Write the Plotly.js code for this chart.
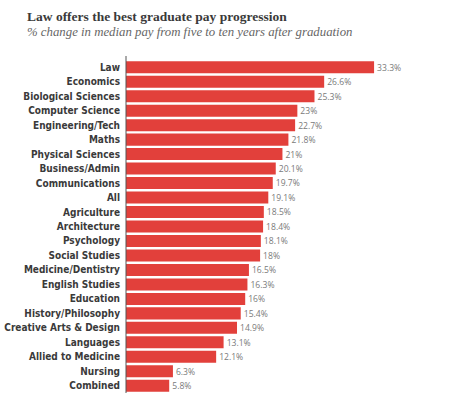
<!DOCTYPE html>
<html><head><meta charset="utf-8">
<script src="https://cdn.plot.ly/plotly-3.0.1.min.js"></script>
<style>body{margin:0;background:#fff}#c{width:450px;height:394px}</style>
</head><body><div id="c"></div>
<script>
const subjects = ["Law","Economics","Biological Sciences","Computer Science","Engineering/Tech","Maths","Physical Sciences","Business/Admin","Communications","All","Agriculture","Architecture","Psychology","Social Studies","Medicine/Dentistry","English Studies","Education","History/Philosophy","Creative Arts & Design","Languages","Allied to Medicine","Nursing","Combined"];
const pctChange = [33.3,26.6,25.3,23,22.7,21.8,21,20.1,19.7,19.1,18.5,18.4,18.1,18,16.5,16.3,16,15.4,14.9,13.1,12.1,6.3,5.8];
const titleText = "Law offers the best graduate pay progression";
const subtitleText = "% change in median pay from five to ten years after graduation";

const L = 126, T = 60, W = 450, H = 394, R = 26, B = 1;
const pw = W - L - R, ph = H - T - B;
const px = v => (v - L) / pw;
const py = v => 1 + (T - v) / ph;

Plotly.newPlot('c', [{
  type: 'bar', orientation: 'h',
  x: pctChange, y: subjects,
  marker: {color: '#e2403b'},
  text: pctChange.map(v => v + '%'),
  textposition: 'outside',
  textfont: {family: 'Open Sans, Liberation Sans, sans-serif', size: 10, color: '#7a7a7a'},
  cliponaxis: false,
  hoverinfo: 'none'
}], {
  width: W, height: H,
  margin: {l: L, r: R, t: T, b: B, pad: 0},
  paper_bgcolor: '#fff', plot_bgcolor: '#fff',
  bargap: 0.17,
  showlegend: false,
  xaxis: {range: [0, 40], visible: false, fixedrange: true},
  yaxis: {autorange: 'reversed', showgrid: false, zeroline: false, showline: false,
    ticks: '', ticklabelstandoff: 5,
    tickfont: {family: 'DejaVu Sans Condensed', size: 10, color: '#3a3a3a', weight: 'bold'}},
  shapes: [{type: 'line', xref: 'paper', yref: 'paper', x0: 0, x1: 0, y0: 0, y1: py(56),
    line: {color: '#555', width: 1}}],
  annotations: [
    {xref: 'paper', yref: 'paper', x: px(25), y: py(16), xanchor: 'left', yanchor: 'middle',
     showarrow: false, text: '<b>' + titleText + '</b>',
     font: {family: 'Liberation Serif, DejaVu Serif, serif', size: 13.5, color: '#3a3a3a'}},
    {xref: 'paper', yref: 'paper', x: px(25), y: py(32), xanchor: 'left', yanchor: 'middle',
     showarrow: false, text: '<i>' + subtitleText + '</i>',
     font: {family: 'Liberation Serif, DejaVu Serif, serif', size: 12.8, color: '#666'}}
  ]
}, {staticPlot: true});
</script></body></html>
